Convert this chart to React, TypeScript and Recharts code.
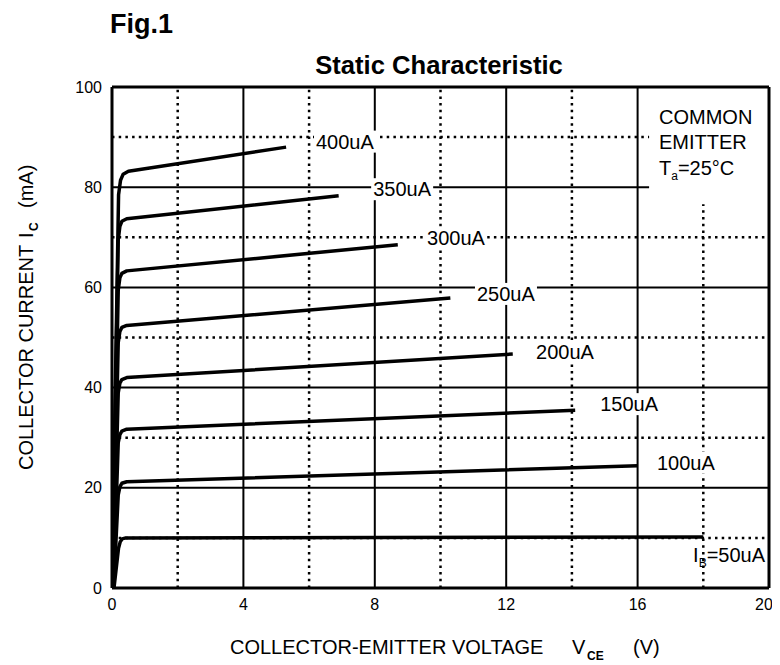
import { ComposedChart, Line, XAxis, YAxis, ReferenceLine, ReferenceDot } from 'recharts'

const FONT = '"Liberation Sans", Arial, sans-serif'

const X_TICKS = [0, 4, 8, 12, 16, 20]
const Y_TICKS = [0, 20, 40, 60, 80, 100]
const SOLID_X = [4, 8, 12, 16]
const DOTTED_X = [2, 6, 10, 14]
const SOLID_Y = [20, 40, 60]
const DOTTED_Y = [10, 30, 50, 70]

// [Vce (V), Ic (mA)], one list per base current
const IB_50 = [[0.06, 0], [0.2, 8], [0.25, 9.2], [0.31, 9.8], [0.42, 10], [18, 10.2]]
const IB_100 = [[0.05, 0], [0.19, 18.6], [0.24, 20.2], [0.3, 20.9], [0.45, 21.2], [16, 24.4]]
const IB_150 = [[0.04, 0], [0.19, 29], [0.24, 30.6], [0.3, 31.3], [0.45, 31.7], [14.1, 35.5]]
const IB_200 = [[0.03, 0], [0.19, 39], [0.24, 40.9], [0.3, 41.6], [0.45, 42], [12.2, 46.7]]
const IB_250 = [[0.02, 0], [0.19, 49], [0.24, 51.2], [0.3, 52], [0.45, 52.4], [10.3, 57.9]]
const IB_300 = [[0.01, 0], [0.19, 59.5], [0.24, 61.9], [0.3, 62.8], [0.45, 63.3], [8.7, 68.5]]
const IB_350 = [[0, 0], [0.19, 69.5], [0.24, 72.2], [0.3, 73.2], [0.45, 73.7], [6.9, 78.3]]
const IB_400 = [[0, 0], [0.2, 78.5], [0.26, 81.4], [0.34, 82.6], [0.5, 83.2], [5.3, 88]]

const CURVES = [IB_50, IB_100, IB_150, IB_200, IB_250, IB_300, IB_350, IB_400]
const CURVE_NAMES = ['50uA', '100uA', '150uA', '200uA', '250uA', '300uA', '350uA', '400uA']
// left edge / middle of each curve label, in data units
const LABEL_X = [17.69, 16.59, 14.86, 12.91, 11.11, 9.59, 7.95, 6.21]
const LABEL_Y = [6.6, 25.0, 36.7, 47.1, 58.7, 69.9, 79.6, 89.1]

function CurveLabel({ cx, cy, text }: { cx?: number; cy?: number; text: string }) {
  if (cx == null || cy == null) return null
  if (text === '50uA') {
    return (
      <text x={cx} y={cy + 7} fontFamily={FONT} fontSize={20} fill="#000">
        I<tspan fontSize={12} dy={5}>B</tspan>
        <tspan dy={-5}>=50uA</tspan>
      </text>
    )
  }
  return (
    <g>
      <rect x={cx - 2} y={cy - 11} width={text.length * 11.6 + 4} height={22} fill="#fff" />
      <text x={cx} y={cy + 7} fontFamily={FONT} fontSize={20} fill="#000">
        {text}
      </text>
    </g>
  )
}

const dotted = { stroke: '#000', strokeWidth: 2.5, strokeDasharray: '2.5 4.2' }
const solid = { stroke: '#000', strokeWidth: 2 }

export default function App() {
  return (
    <div style={{ position: 'relative', width: 764, height: 657 }}>
      <ComposedChart width={764} height={650} margin={{ top: 79, right: 3, bottom: 40, left: 44 }}>
        <XAxis
          type="number"
          dataKey="x"
          domain={[0, 20]}
          ticks={X_TICKS}
          axisLine={false}
          tickLine={false}
          tickSize={0}
          tickMargin={11}
          height={30}
          tick={{ fill: '#000', fontSize: 16, fontFamily: FONT }}
          allowDataOverflow
        />
        <YAxis
          type="number"
          domain={[0, 100]}
          ticks={Y_TICKS}
          axisLine={false}
          tickLine={false}
          tickSize={0}
          tickMargin={10}
          width={60}
          tick={{ fill: '#000', fontSize: 16, fontFamily: FONT }}
          allowDataOverflow
        />

        {DOTTED_X.map((v) => <ReferenceLine key={'dx' + v} x={v} {...dotted} />)}
        {DOTTED_Y.map((v) => <ReferenceLine key={'dy' + v} y={v} {...dotted} />)}
        <ReferenceLine segment={[{ x: 18, y: 0 }, { x: 18, y: 76.6 }]} {...dotted} />
        <ReferenceLine segment={[{ x: 0, y: 90 }, { x: 16.35, y: 90 }]} {...dotted} />
        {SOLID_X.map((v) => <ReferenceLine key={'sx' + v} x={v} {...solid} />)}
        {SOLID_Y.map((v) => <ReferenceLine key={'sy' + v} y={v} {...solid} />)}
        <ReferenceLine segment={[{ x: 0, y: 80 }, { x: 16.35, y: 80 }]} {...solid} />

        <ReferenceLine x={0} stroke="#000" strokeWidth={3} />
        <ReferenceLine x={20} stroke="#000" strokeWidth={3} />
        <ReferenceLine y={0} stroke="#000" strokeWidth={3} />
        <ReferenceLine y={100} stroke="#000" strokeWidth={3} />

        {CURVES.map((pts, i) => (
          <Line
            key={CURVE_NAMES[i]}
            data={pts.map(([x, y]) => ({ x, y }))}
            dataKey="y"
            type="linear"
            dot={false}
            stroke="#000"
            strokeWidth={3.5}
            strokeLinejoin="round"
            isAnimationActive={false}
          />
        ))}

        {CURVE_NAMES.map((name, i) => (
          <ReferenceDot
            key={'lab' + name}
            x={LABEL_X[i]}
            y={LABEL_Y[i]}
            r={0}
            shape={(p: any) => <CurveLabel cx={p.cx} cy={p.cy} text={name} />}
          />
        ))}
      </ComposedChart>

      <svg
        width={764}
        height={657}
        style={{ position: 'absolute', left: 0, top: 0, pointerEvents: 'none' }}
        fontFamily={FONT}
      >
        <text x={102} y={25} fontSize={27} fontWeight="bold">Fig.1</text>
        <text x={431} y={66} fontSize={25.6} fontWeight="bold" textAnchor="middle">
          Static Characteristic
        </text>

        <text x={651} y={116} fontSize={20}>COMMON</text>
        <text x={651} y={141} fontSize={20}>EMITTER</text>
        <text x={651} y={167} fontSize={20}>
          T<tspan fontSize={12} dy={5}>a</tspan>
          <tspan dy={-5}>=25°C</tspan>
        </text>

        <text x={222} y={646} fontSize={20}>COLLECTOR-EMITTER VOLTAGE</text>
        <text x={564} y={646} fontSize={20}>V</text>
        <text x={579} y={652} fontSize={12} fontWeight="bold">CE</text>
        <text x={625} y={646} fontSize={20}>(V)</text>

        <g transform="translate(25, 462) rotate(-90)">
          <text x={0} y={0} fontSize={20}>COLLECTOR CURRENT</text>
          <text x={232} y={0} fontSize={20}>I</text>
          <text x={239} y={5} fontSize={12} fontWeight="bold">C</text>
          <text x={262} y={0} fontSize={20}>(mA)</text>
        </g>
      </svg>
    </div>
  )
}
